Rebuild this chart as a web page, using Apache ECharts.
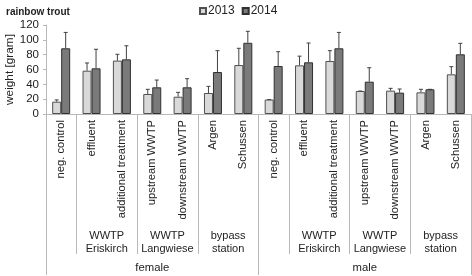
<!DOCTYPE html>
<html><head><meta charset="utf-8">
<script src="https://cdn.jsdelivr.net/npm/echarts@6/dist/echarts.min.js"></script>
<style>html,body{margin:0;padding:0;background:#fff}#c{width:472px;height:276px}</style>
</head><body><div id="c"></div>
<script>
const categories = ['neg. control','effluent','additional treatment','upstream WWTP','downstream WWTP','Argen','Schussen',
                    'neg. control','effluent','additional treatment','upstream WWTP','downstream WWTP','Argen','Schussen'];
const values2013 = [16.6, 58.4, 72, 27, 23.3, 28.3, 66,   19.5, 65.6, 71.5, 31, 31.5, 29.2, 53.5];
const errTop2013 = [19, 68.8, 80.5, 33.3, 29.2, 37.3, 88.6, 19.5, 78, 85.4, 31, 34.6, 33.3, 63.8];
const values2014 = [88.6, 61.6, 73.7, 36, 36, 56.6, 96,   64.7, 69.7, 88.6, 43.6, 28.8, 33.3, 80.5];
const errTop2014 = [110, 87.3, 92, 45.8, 47.6, 85.4, 111.5, 84, 95.7, 110, 62.4, 33.7, 33.3, 95.3];
// site groups on a half-category scale (0..28)
const siteLabels = {4:'WWTP\nEriskirch', 8:'WWTP\nLangwiese', 12:'bypass\nstation', 18:'WWTP\nEriskirch', 22:'WWTP\nLangwiese', 26:'bypass\nstation'};
const siteBounds = [0,2,6,10,14,16,20,24,28];
const sexLabels = {7:'female', 21:'male'};
const sexBounds = [0,14,28];
const yTicks = {min:0, max:120, interval:20};

const half = Array.from({length:29}, (_,i)=>String(i));
const font = 'Liberation Sans, Arial, sans-serif';
const sepColor = '#b8b8b8';

function errSeries(name, vals, tops, xoff){
  return {
    type:'custom', name: name+'err', silent:true, z:1,
    data: vals.map((v,i)=>[i, v, tops[i]]),
    renderItem(params, api){
      const p0 = api.coord([api.value(0), api.value(1)]);
      const p1 = api.coord([api.value(0), api.value(2)]);
      const x = p0[0] + xoff;
      return {type:'group', children:[
        {type:'line', shape:{x1:x,y1:p0[1],x2:x,y2:p1[1]}, style:{stroke:'#404040',lineWidth:1}},
        {type:'line', shape:{x1:x-2,y1:p1[1],x2:x+2,y2:p1[1]}, style:{stroke:'#404040',lineWidth:1}}
      ]};
    }
  };
}

const chart = echarts.init(document.getElementById('c'), null, {renderer:'canvas'});
chart.setOption({
  animation:false,
  textStyle:{fontFamily:font},
  title:{text:'rainbow trout', left:1, top:2, textStyle:{fontSize:10, fontWeight:'bold', color:'#222', fontFamily:font}},
  legend:{top:0, left:194, itemWidth:6, itemHeight:6, itemGap:7, icon:'rect',
    textStyle:{fontSize:12, color:'#222', fontFamily:font, padding:[0,0,0,-3]},
    data:['2013','2014']},
  grid:{left:46, right:1, top:25, bottom:162, containLabel:false, outerBoundsMode:'none'},
  xAxis:[
    {type:'category', data:categories, position:'bottom',
     axisLine:{lineStyle:{color:sepColor}},
     axisTick:{length:108, lineStyle:{color:sepColor}},
     axisLabel:{rotate:90, interval:0, margin:6, fontSize:11.2, color:'#222', fontFamily:font}},
    {type:'category', data:half, boundaryGap:false, position:'bottom',
     axisLine:{show:false},
     axisTick:{length:140, interval:(i)=>siteBounds.includes(i), lineStyle:{color:sepColor}},
     axisLabel:{interval:0, margin:115, fontSize:11, lineHeight:13, color:'#222', fontFamily:font,
       formatter:(v)=>siteLabels[+v]||''}},
    {type:'category', data:half, boundaryGap:false, position:'bottom',
     axisLine:{show:false},
     axisTick:{length:161, interval:(i)=>sexBounds.includes(i), lineStyle:{color:sepColor}},
     axisLabel:{interval:0, margin:148, fontSize:11.3, color:'#222', fontFamily:font,
       formatter:(v)=>sexLabels[+v]||''}}
  ],
  yAxis:{type:'value', min:yTicks.min, max:yTicks.max, interval:yTicks.interval,
    name:'weight [gram]', nameLocation:'middle', nameGap:30, nameRotate:90, nameMoveOverlap:false,
    nameTextStyle:{fontSize:11.8, color:'#222', fontFamily:font},
    splitLine:{show:false},
    axisLine:{show:true, lineStyle:{color:sepColor}},
    axisTick:{show:true, length:3, lineStyle:{color:sepColor}},
    axisLabel:{fontSize:11.5, color:'#222', margin:7, fontFamily:font}},
  series:[
    {type:'bar', name:'2013', data:values2013, barWidth:9, barGap:'0%',
     itemStyle:{color:'#d9d9d9', borderColor:'#505050', borderWidth:1}},
    {type:'bar', name:'2014', data:values2014, barWidth:9, barGap:'0%',
     itemStyle:{color:'#7a7a7a', borderColor:'#303030', borderWidth:1}},
    errSeries('2013', values2013, errTop2013, -4.5),
    errSeries('2014', values2014, errTop2014, 4.5)
  ]
});
</script></body></html>
